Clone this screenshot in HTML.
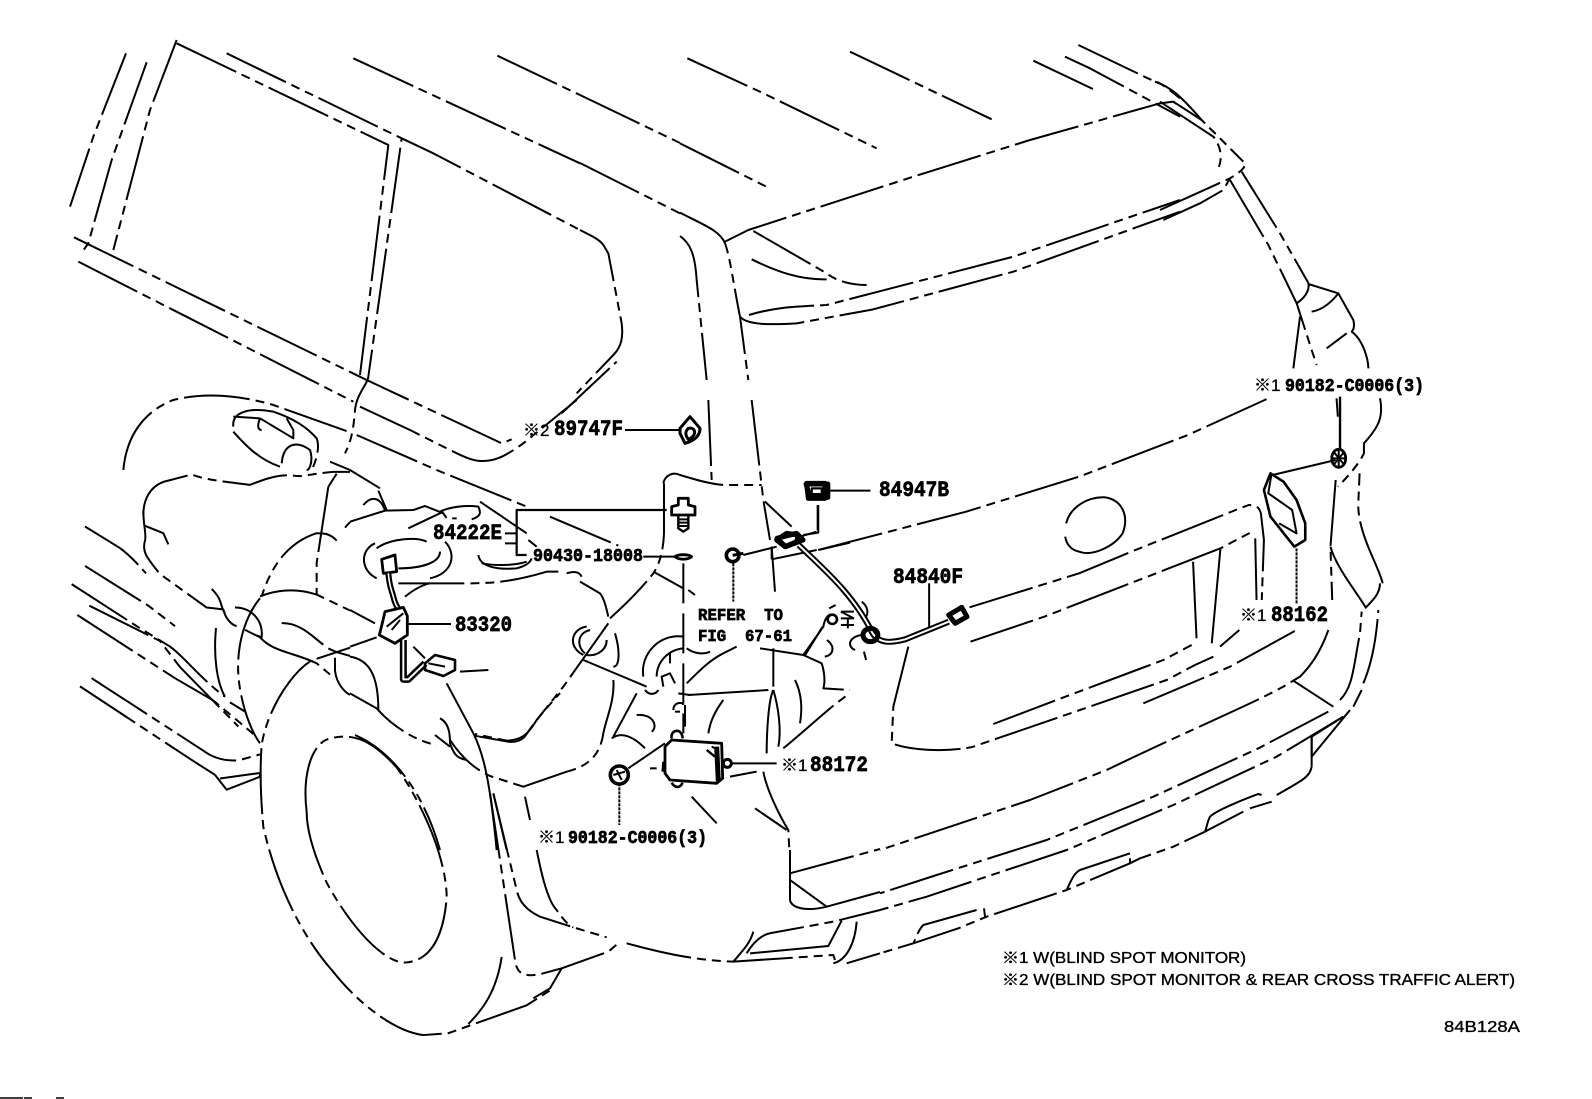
<!DOCTYPE html>
<html><head><meta charset="utf-8"><title>84B128A</title>
<style>
html,body{margin:0;padding:0;background:#fff;width:1592px;height:1099px;overflow:hidden}
svg{display:block}
path,ellipse,circle{fill:none;stroke:#000;stroke-width:2;vector-effect:non-scaling-stroke;stroke-linecap:butt;stroke-linejoin:round}
.d path{stroke-dasharray:66 6 9 6 9 6}
.s path{stroke-dasharray:none}
text{font-family:"Liberation Mono",monospace;font-weight:700;fill:#000;stroke:#000;stroke-width:.7}
text.n{font-family:"Liberation Sans","Noto Sans CJK JP",sans-serif;font-weight:400;font-size:15.5px;stroke-width:.35}
text.k{font-family:"Liberation Sans","Noto Sans CJK JP",sans-serif;font-weight:400;font-size:17px;stroke-width:.3}
</style></head><body>
<svg width="1592" height="1099" viewBox="0 0 1592 1099" xmlns="http://www.w3.org/2000/svg">
<rect width="1592" height="1099" fill="#fff"/>

<path d="M0 1098L23 1098M24 1098L32 1098M56 1098L64 1098" style="stroke-width:1.6"/>

<!-- top-left windows -->
<g transform="translate(60 30) scale(.33333)"><g class="d">
<path d="M198 70L100 320L30 530"/>
<path d="M260 97L155 390L85 640L65 668"/>
<path d="M350 30L270 240L160 660"/>
<path d="M350 40L985 345L900 1035"/>
<path d="M500 70L1025 325L925 1040C925 1060 890 1090 885 1140C880 1210 870 1240 855 1270"/>
<path d="M1025 325L1120 370L1560 600"/>
<path d="M880 85L1560 400"/>
<path d="M1312 77L1560 195"/>
<path d="M42 622L920 1050L1325 1240L1355 1228"/>
<path d="M55 695L880 1115"/>
<path d="M190 1320C200 1210 260 1140 340 1110C420 1090 520 1090 640 1125L865 1205"/>
<path d="M520 1160L600 1165"/>
<path d="M520 1205C560 1250 600 1290 660 1310"/>
<path d="M640 1145C700 1165 740 1190 770 1225C780 1250 770 1290 755 1320"/>
<path d="M810 1295L870 1320"/>
</g><g class="s">
<path d="M600 1165L700 1225L700 1200L680 1165"/>
<path d="M600 1165C590 1190 595 1200 605 1200"/>
<path d="M520 1190C515 1150 560 1130 640 1145"/>
<path d="M665 1300C670 1240 710 1230 750 1260C760 1290 750 1320 740 1320"/>
</g></g>

<!-- window 2 corner and roof line continuations -->
<g transform="translate(540 120) scale(.33333)"><g class="d">
<path d="M120 330C160 350 180 360 190 375L205 400L245 610C250 650 245 680 220 705L110 820"/>
<path d="M65 880L150 800L230 725"/>
<path d="M120 129L420 280"/>
<path d="M120 -75L420 69"/>
</g></g>

<!-- lower-left body + wheel -->
<g transform="translate(60 470) scale(.33333 .37175)"><g class="d">
<path d="M250 120C250 80 270 45 310 32L395 12C430 25 480 30 570 40C600 30 650 10 700 15C730 20 750 10 820 5L870 5"/>
<path d="M250 110C250 150 260 175 255 190C245 220 260 235 300 280L440 370L490 375C495 395 510 415 530 420"/>
<path d="M255 150L310 170L325 200"/>
<path d="M805 45L770 250L770 335"/>
<path d="M830 10L805 45"/>
<path d="M855 155L870 140"/>
<path d="M830 190C810 170 790 170 770 170C700 190 640 240 605 340"/>
<path d="M600 340C640 325 700 315 770 335L870 378"/>
<path d="M525 370C570 370 610 400 605 450L590 445"/>
<path d="M555 430L600 450"/>
<path d="M600 450C640 490 700 490 770 520L810 550"/>
<path d="M770 508L870 478"/>
<path d="M665 412C720 410 760 450 790 470"/>
<path d="M805 480L830 490L870 500"/>
<path d="M825 505L825 540C830 580 860 600 870 605"/>
<path d="M750 515C690 550 620 650 605 740C600 800 600 860 610 960C650 1120 730 1260 820 1350C890 1430 1000 1510 1090 1520L1165 1515L1400 1440L1470 1400"/>
<path d="M740 920C725 810 760 740 800 725C870 705 930 720 1010 800C1090 900 1160 1050 1160 1150C1150 1270 1100 1325 1030 1325C960 1320 860 1210 800 1110C770 1050 740 980 740 920"/>
<path d="M75 152L180 210C210 230 230 250 258 278"/>
<path d="M75 258L265 365L345 420"/>
<path d="M35 307L230 420L330 475C370 500 420 560 495 610"/>
<path d="M88 365L300 460L360 530L535 690"/>
<path d="M52 390L250 505L345 560L460 620L580 710"/>
<path d="M510 625L555 650"/>
<path d="M600 345C550 400 530 480 535 550C540 620 570 700 600 735"/>
<path d="M95 560L430 755C460 775 500 785 540 780L600 765"/>
<path d="M60 582L395 780L465 820"/>
<path d="M1245 715L1340 730C1370 735 1390 725 1400 710C1430 670 1460 640 1500 600"/>
</g><g class="s">
<path d="M455 320C490 350 480 370 495 385"/>
<path d="M468 425C460 500 470 570 495 610"/>
<path d="M465 820L500 860L600 825L600 815L480 830"/>
<path d="M1325 1310C1310 1400 1270 1450 1225 1490"/>
</g></g>

<!-- lower-middle -->
<g transform="translate(480 650) scale(.33333)"><g class="d">
<path d="M30 430L105 930C110 970 130 985 190 970L245 955L385 905L420 875"/>
<path d="M40 430L110 720C120 770 160 790 180 800L280 832L380 862"/>
<path d="M170 600C180 650 200 750 230 780C250 810 270 830 280 832"/>
<path d="M440 880C550 910 640 930 760 935L1060 915L1065 930"/>
<path d="M760 935C790 900 810 880 820 845"/>
<path d="M800 910C830 860 860 850 880 848L1060 815L1200 780"/>
<path d="M1130 815C1125 880 1100 930 1060 940"/>
<path d="M1100 940L1200 910"/>
<path d="M930 600L930 670"/>
<path d="M930 670L1200 597"/>
<path d="M1040 770L1200 726"/>
<path d="M160 1045L210 1015L245 955"/>
</g><g class="s">
<path d="M810 910L1045 888L1085 812"/>
<path d="M930 670L930 750C935 775 980 785 1040 770L930 690"/>
</g></g>

<!-- lower right bumper -->
<g transform="translate(880 560) scale(.33333)"><g class="d">
<path d="M85 260L40 440L35 550C100 575 220 575 280 560L600 450L860 360L945 315L1000 290"/>
<path d="M340 492L530 420L850 300L935 255"/>
<path d="M790 430L1050 320L1250 210"/>
<path d="M1345 210C1320 280 1290 320 1260 350L1210 380C1100 440 950 500 680 630L450 720L0 870"/>
<path d="M1345 455L1135 565L820 710L500 840L170 945L0 1000"/>
<path d="M1390 470L1190 590L880 735L560 870L140 1010L0 1050"/>
<path d="M1295 620C1290 650 1270 660 1190 705"/>
<path d="M1175 725L1110 745"/>
<path d="M1090 755L975 815L880 860L780 895L750 910L560 990L470 1020L320 1070L235 1105L100 1150L0 1180"/>
<path d="M290 1050L130 1095C115 1110 110 1130 100 1150"/>
<path d="M1380 420C1420 380 1420 320 1440 220L1445 155"/>
<path d="M1450 370C1480 300 1490 220 1495 150"/>
<path d="M1420 440L1445 390"/>
<path d="M1078 210L1020 260"/>
</g><g class="s">
<path d="M1240 362L1360 440"/>
<path d="M1410 450L1295 590L1295 530L1390 470"/>
<path d="M1295 530L1295 620"/>
<path d="M1145 705L1135 702C1100 715 1010 750 990 770C980 790 980 805 975 815"/>
<path d="M750 880L600 930C580 940 570 970 560 990"/>
<path d="M750 895L750 910"/>
<path d="M312 1045L315 1070"/>
<path d="M1455 145C1480 120 1500 100 1500 70"/>
</g></g>

<!-- roof & tailgate top -->
<g transform="translate(680 30) scale(.33333)"><g class="d">
<path d="M22 85L240 185L590 355"/>
<path d="M510 65L935 268"/>
<path d="M1060 92L1245 180"/>
<path d="M1155 80L1230 115L1500 260"/>
<path d="M1195 45L1410 148L1430 155C1460 170 1480 190 1500 205"/>
<path d="M0 340L265 473"/>
<path d="M135 635L205 600L700 440L1050 330L1440 220L1480 215L1500 230"/>
<path d="M0 548C60 580 120 600 135 640C150 680 160 760 180 860L205 1050"/>
<path d="M0 618C30 640 45 670 50 750L80 1050"/>
<path d="M220 603L440 730C470 755 520 765 560 765"/>
<path d="M207 855C290 830 350 830 440 825L1000 680L1500 510"/>
<path d="M180 860C200 885 270 885 350 880L580 838L1000 725L1500 545"/>
</g><g class="s">
<path d="M215 688C290 725 360 750 440 748"/>
</g></g>

<!-- top right -->
<g transform="translate(1120 30) scale(.33333)"><g class="d">
<path d="M105 155C150 170 180 195 245 270L370 395"/>
<path d="M120 215L280 320C300 345 310 380 295 415"/>
<path d="M120 540L330 445C370 420 380 410 370 395"/>
<path d="M130 570L240 520L310 480L330 445"/>
<path d="M365 425L480 610L560 750C575 770 560 800 530 820"/>
<path d="M330 450L445 645L530 820L575 960L590 1005"/>
<path d="M680 910L620 955"/>
</g><g class="s">
<path d="M160 215L245 270"/>
<path d="M565 762L655 790L700 870C705 890 700 900 695 905C730 930 745 990 745 1015"/>
<path d="M655 790C640 810 610 840 575 845"/>
<path d="M540 860L520 1015"/>
</g></g>

<!-- central detail -->
<g transform="translate(350 400) scale(.33333)">
<g class="d">
<path d="M30 20L180 90L290 145C340 170 370 185 400 183C440 183 470 165 520 130L680 0"/>
<path d="M20 105L260 210L530 320"/>
<path d="M630 40L650 25"/>
<path d="M0 210L90 265"/>
<path d="M105 332L190 330L225 318L280 340L290 355L320 355"/>
<path d="M270 335C300 320 350 315 385 320C395 340 390 350 365 358"/>
<path d="M390 305L530 400"/>
<path d="M535 420L560 440"/>
<path d="M75 430C30 450 30 510 80 535"/>
<path d="M80 445C120 415 200 410 230 425"/>
<path d="M270 455C270 490 210 505 145 505"/>
<path d="M285 425C320 460 310 520 240 535"/>
<path d="M145 550L350 550C430 550 490 545 590 515L625 515"/>
<path d="M650 520C680 510 690 520 695 530"/>
<path d="M690 545L750 580C765 600 770 630 775 650"/>
<path d="M165 590C190 570 215 555 240 550"/>
<path d="M385 465C390 500 440 510 500 505C520 500 540 490 545 475"/>
<path d="M600 350L805 437"/>
<path d="M940 250C945 225 970 215 990 225C1040 240 1090 255 1130 255L1235 255"/>
<path d="M942 250L942 400C940 450 930 490 910 520C870 570 830 610 780 655"/>
<path d="M1015 570L1035 585"/>
<path d="M1000 490L1000 1000" style="stroke-dasharray:40 10"/>
<path d="M1075 0L1085 240"/>
<path d="M1205 0L1240 300L1260 420"/>
<path d="M1265 440L1275 575"/>
<path d="M775 670L640 860L560 960C530 1010 510 1020 470 1022L375 1002"/>
<path d="M795 700C810 750 810 800 790 800"/>
<path d="M790 840C795 900 770 950 760 1000C750 1070 710 1100 650 1115L520 1160L420 1128C380 1110 340 1080 300 1020"/>
<path d="M710 680C665 685 650 740 700 765"/>
<path d="M770 720C770 750 740 770 710 765"/>
<path d="M290 850L370 1000"/>
<path d="M430 1180L470 1350"/>
<path d="M330 815L415 810"/>
<path d="M0 630L75 670"/>
<path d="M0 770C60 780 85 830 85 930"/>
<path d="M0 880L80 925C110 960 180 1020 260 1035"/>
<path d="M15 1005C120 1050 220 1170 270 1350"/>
<path d="M525 1190L540 1260"/>
<path d="M1000 710C930 700 870 760 880 830"/>
<path d="M1010 745C1030 760 1060 765 1080 755"/>
<path d="M1010 850C1050 810 1080 780 1120 760L1160 740"/>
<path d="M1360 765L1415 790C1425 820 1425 850 1420 865L1500 870"/>
<path d="M985 880L1020 885"/>
<path d="M860 880L790 1010"/>
<path d="M1300 1045C1380 980 1440 920 1500 880"/>
<path d="M1005 915L1005 980"/>
<path d="M835 1105L945 1030"/>
<path d="M900 1105L920 1105"/>
<path d="M1180 465L1280 440"/>
<path d="M1350 410L1400 395"/>
<path d="M1403 315L1403 390"/>
<path d="M1240 1115C1250 1170 1290 1250 1315 1290L1318 1350"/>
<path d="M1270 745L1270 860"/>
</g>
<g class="s">
<path d="M0 365L105 332"/><path d="M105 332C95 300 70 280 40 315"/><path d="M85 272L110 330"/><path d="M280 335L175 385"/>
<path d="M395 490C430 497 490 498 530 485"/>
<path d="M910 515L1000 565"/>
<path d="M1245 305L1325 380"/>
<path d="M1265 478L1400 450"/><path d="M1405 450L1500 428"/><path d="M1265 440L1265 478"/>
<path d="M720 690C680 700 680 740 705 760"/>
<path d="M700 780L890 860"/>
<path d="M370 1000C400 1060 420 1140 440 1350"/>
<path d="M190 740L225 775"/>
<path d="M0 740L80 712"/>
<path d="M270 955C300 970 300 1010 300 1030C310 1060 320 1075 350 1080"/>
<path d="M255 1005L300 1040"/>
<path d="M1000 745C950 750 920 790 920 830"/>
<path d="M960 760L960 790"/>
<path d="M940 860L935 830L960 820L975 850"/>
<path d="M1230 745L1360 765L1420 680C1425 650 1440 640 1445 645"/>
<path d="M885 870C900 890 920 880 925 870"/>
<path d="M1015 885L1255 870"/>
<path d="M970 930C970 905 1000 905 1000 915"/>
<path d="M975 935L990 935"/>
<path d="M785 1015C820 990 860 1020 885 1045"/>
<path d="M860 945C910 940 925 980 905 995"/>
<path d="M1120 900C1090 940 1080 970 1075 1000"/>
<path d="M1335 840C1350 870 1360 910 1350 970"/>
<path d="M1270 870C1255 900 1250 1000 1250 1060"/>
<path d="M1270 870C1285 920 1295 990 1285 1040"/>
<path d="M1215 1225L1310 1290"/>
<path d="M1025 1190L1100 1270"/>
<path d="M1140 1130L1220 1115"/>
<path d="M950 330L500 330L500 465L530 465" style="stroke-width:2.2"/>
<path d="M465 400L500 400M465 430L500 430"/>
<path d="M880 470L975 470"/>
<path d="M825 90L990 90"/>
<path d="M175 672L303 672"/>
<path d="M1145 1090L1280 1090"/>
<path d="M808 1150L808 1275" style="stroke-dasharray:3 1"/>
<path d="M1150 490L1150 605" style="stroke-dasharray:3 1"/>
<path d="M990 85L1020 50L1050 85C1050 110 1030 120 1020 125L1005 130L990 100Z" style="stroke-width:3"/>
<path d="M1015 85C1040 80 1040 110 1015 118C1005 105 1005 95 1015 85Z" style="stroke-width:3"/>
<path d="M965 320L985 315L985 295L1015 295L1015 315L1035 320L1035 345L965 345Z" style="stroke-width:2.8"/>
<path d="M985 345L985 385L1000 395L1015 385L1015 345" style="stroke-width:2.4"/>
<path d="M985 358H1015M985 368H1015M985 378H1015"/>
<path d="M975 470C985 462 1015 462 1025 470C1015 480 985 480 975 470Z" style="stroke-width:2.8"/>
<path d="M1370 250H1425V295H1375Z" style="stroke-width:5"/>
<path d="M1385 265H1415V282H1385Z"/>
<path d="M95 478L135 465L140 515L100 520Z" style="stroke-width:2.8"/>
<path d="M115 520C118 560 125 570 130 590C135 610 140 620 145 625" style="stroke-width:6"/>
<path d="M115 520C118 560 125 570 130 590C135 610 140 620 145 625" style="stroke:#fff;stroke-width:1.6"/>
<path d="M105 635L160 622L172 648L172 705L135 730L88 705L98 665Z" style="stroke-width:2.8"/>
<path d="M110 680L160 640M125 690L150 660"/>
<path d="M160 720L160 838L175 838L225 790" style="stroke-width:7"/>
<path d="M160 720L160 838L175 838L225 790" style="stroke:#fff;stroke-width:2"/>
<path d="M225 790L255 765L315 780L315 810L280 828L225 810Z" style="stroke-width:2.6"/>
<path d="M235 790L285 800"/>
<path d="M945 1040L965 1020L1115 1030L1118 1135L1100 1150L960 1140L945 1120Z" style="stroke-width:2.8"/>
<path d="M1100 1040L1105 1145" style="stroke-width:5"/>
<path d="M965 1015C960 990 995 980 998 1015" style="stroke-width:2.6"/>
<path d="M965 1148C975 1165 990 1165 998 1148" style="stroke-width:2.6"/>
<path d="M1070 1050L1095 1070M940 1085L938 1115" style="stroke-width:2.4"/>
<path d="M1085 1040L1105 1050"/>
<path d="M1280 420L1310 400L1345 405L1340 425L1305 440Z" style="stroke-width:5"/>
</g>
<circle cx="1132" cy="1090" r="12" style="stroke-width:3"/>
<circle cx="1148" cy="466" r="19" style="stroke-width:3.6"/>
<path d="M1148 466L1180 460" style="stroke-width:3"/>
<circle cx="808" cy="1125" r="27" style="stroke-width:3.6"/>
<path d="M790 1125L825 1115M800 1110L815 1140"/>
<circle cx="1447" cy="658" r="14" style="stroke-width:2.6"/>
</g>

<!-- tailgate detail -->
<g transform="translate(740 360) scale(.4348 .33333)">
<g class="d">
<path d="M180 570L520 455L780 350L1030 225L1215 115"/>
<path d="M145 525L180 518L180 435"/>
<path d="M528 742L780 640L900 575L1140 450L1170 435C1190 435 1195 445 1198 460L1205 540L1200 720"/>
<path d="M530 845L700 770L1105 565L1178 515"/>
<path d="M1225 345L1370 300"/>
<path d="M1372 115L1375 170"/>
<path d="M1472 115C1480 170 1470 200 1435 250L1435 280C1420 320 1390 360 1375 380"/>
<path d="M1370 360L1358 560L1362 720"/>
<path d="M1478 670C1470 620 1420 520 1422 430L1425 340"/>
<path d="M285 875L290 900"/>
<path d="M205 745L220 735"/>
</g>
<g class="s">
<path d="M750 490C760 440 800 410 840 412C880 420 895 470 880 520C860 560 810 590 780 575C760 570 750 550 748 530"/>
<path d="M1185 535L1188 720"/>
<path d="M1105 565L1085 850"/>
<path d="M1042 605L1050 835"/>
<path d="M1358 560C1370 620 1420 700 1438 740"/>
<path d="M135 555C190 625 260 700 305 820C320 850 345 850 380 838L480 785" style="stroke-width:6"/>
<path d="M135 555C190 625 260 700 305 820C320 850 345 850 380 838L480 785" style="stroke:#fff;stroke-width:2"/>
<path d="M435 670L435 800"/>
<path d="M200 392L300 392"/>
<path d="M1380 110L1380 270" style="stroke-width:2.4"/>
<path d="M1280 565L1280 730" style="stroke-dasharray:3 1"/>
<path d="M1220 340L1205 390L1220 470L1275 560L1300 540L1300 490L1280 420L1250 365Z" style="stroke-width:2.6"/>
<path d="M1222 345L1215 400L1270 450L1280 520L1240 490"/>
<path d="M150 885L190 800"/>
<path d="M280 725C295 740 295 760 290 770"/>
<path d="M280 825C250 830 245 860 265 870"/>
<path d="M200 840C220 860 215 885 195 890"/>
<path d="M232 755L262 755M232 775L262 775M232 755L262 775M232 795L262 795M248 775L248 805"/>
<path d="M85 535L130 520L145 540L105 560Z" style="stroke-width:5"/>
<path d="M480 765L510 742L522 770L495 790Z" style="stroke-width:5"/>
<path d="M152 372H202V412H160Z" style="stroke-width:5"/>
<path d="M165 385H190V405H165Z"/>
</g>
<ellipse cx="300" cy="825" rx="17" ry="20" style="stroke-width:5"/>
<ellipse cx="1377" cy="295" rx="16" ry="27" style="stroke-width:2.8"/>
<path d="M1362 295H1392M1377 270V320M1365 275L1390 315M1390 275L1365 315"/>
</g>

<!-- labels -->
<text class="k" x="523" y="436">※2</text>
<text x="554" y="435" font-size="22" textLength="69" lengthAdjust="spacingAndGlyphs">89747F</text>
<text x="433" y="539" font-size="22" textLength="69" lengthAdjust="spacingAndGlyphs">84222E</text>
<text x="533" y="561" font-size="18" textLength="110" lengthAdjust="spacingAndGlyphs">90430-18008</text>
<text x="455" y="631" font-size="22" textLength="57" lengthAdjust="spacingAndGlyphs">83320</text>
<text x="698" y="620" font-size="17" textLength="85" xml:space="preserve" lengthAdjust="spacingAndGlyphs">REFER  TO</text>
<text x="698" y="641" font-size="17" textLength="94" xml:space="preserve" lengthAdjust="spacingAndGlyphs">FIG  67-61</text>
<text class="k" x="781" y="771">※1</text>
<text x="810" y="771" font-size="22" textLength="58" lengthAdjust="spacingAndGlyphs">88172</text>
<text class="k" x="538" y="843">※1</text>
<text x="568" y="843" font-size="18" textLength="139" lengthAdjust="spacingAndGlyphs">90182-C0006(3)</text>
<text class="k" x="1254" y="391">※1</text>
<text x="1285" y="391" font-size="18" textLength="139" lengthAdjust="spacingAndGlyphs">90182-C0006(3)</text>
<text x="879" y="496" font-size="22" textLength="70" lengthAdjust="spacingAndGlyphs">84947B</text>
<text x="893" y="583" font-size="22" textLength="70" lengthAdjust="spacingAndGlyphs">84840F</text>
<text class="k" x="1240" y="621">※1</text>
<text x="1271" y="621" font-size="22" textLength="57" lengthAdjust="spacingAndGlyphs">88162</text>
<text class="n" x="1002" y="963" textLength="244" lengthAdjust="spacingAndGlyphs">※1 W(BLIND SPOT MONITOR)</text>
<text class="n" x="1002" y="985" textLength="513" lengthAdjust="spacingAndGlyphs">※2 W(BLIND SPOT MONITOR &amp; REAR CROSS TRAFFIC ALERT)</text>
<text class="n" x="1444" y="1032" textLength="76" lengthAdjust="spacingAndGlyphs">84B128A</text>
</svg>
</body></html>
